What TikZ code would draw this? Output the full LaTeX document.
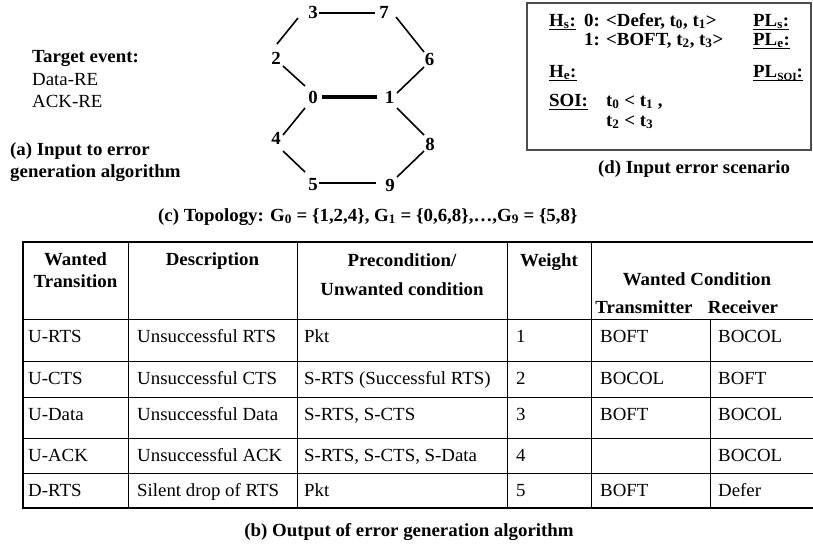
\documentclass[tikz,border=0pt]{standalone}
\usepackage{fontspec}
\setmainfont{Liberation Serif}[FakeStretch=1.02]
\usetikzlibrary{calc}
% underline drawn at a fixed depth, so subscripts sit on the rule
\newcommand\undl[1]{\setbox0\hbox{#1}\rlap{\rule[-4pt]{\wd0}{1.3pt}}\box0}
\newcommand\sbs[1]{\textsubscript{#1}}
\begin{document}
\begin{tikzpicture}[x=1pt,y=-1pt,
  txt/.style={inner sep=0pt, font=\fontsize{18.5}{22}\selectfont},
  lt/.style={txt, anchor=base west},
  ct/.style={txt, anchor=base},
  blt/.style={txt, font=\fontsize{18.5}{22}\selectfont\bfseries, anchor=base west},
  bct/.style={txt, font=\fontsize{18.5}{22}\selectfont\bfseries, anchor=base},
  vtx/.style={txt, font=\fontsize{18.5}{22}\selectfont\bfseries, anchor=center},
  link/.style={line width=1.6pt},
  strong/.style={line width=4pt},
  grid/.style={line width=1pt},
  frame/.style={line width=2.6pt},
  boxline/.style={line width=1.2pt, draw=black!70}
]
\useasboundingbox (0,0) rectangle (813,550);

% (a) input to the error generation algorithm
\node[blt] (tgt) at (32,62) {Target event:};
\node[lt] (ev1) at (32,85) {Data-RE};
\node[lt] (ev2) at (32,107) {ACK-RE};
\node[blt] (capa1) at (10,155) {(a) Input to error};
\node[blt] (capa2) at (10,177) {generation algorithm};

% (c) topology graph
\node[vtx] (n3) at (313,12.5) {3};
\node[vtx] (n7) at (384,12.5) {7};
\node[vtx] (n2) at (276,58) {2};
\node[vtx] (n6) at (429.5,59) {6};
\node[vtx] (n0) at (313,97) {0};
\node[vtx] (n1) at (389.5,97) {1};
\node[vtx] (n4) at (276,138) {4};
\node[vtx] (n8) at (430,144) {8};
\node[vtx] (n5) at (313,185) {5};
\node[vtx] (n9) at (390,185) {9};

\draw[link] ($(n3)+(6,0.5)$) -- ($(n7)+(-9,0.5)$);
\draw[link] ($(n2)+(1,-14)$) -- ($(n3)+(-15,5.5)$);
\draw[link] ($(n7)+(12,4.5)$) -- ($(n6)+(-5.5,-7)$);
\draw[link] ($(n2)+(7,8)$) -- ($(n0)+(-8,-11)$);
\draw[link] ($(n6)+(-5.5,8)$) -- ($(n1)+(7.5,-4)$);
\draw[strong] ($(n0)+(9,0)$) -- ($(n1)+(-13,0)$);
\draw[link] ($(n0)+(-8,11)$) -- ($(n4)+(7,-3)$);
\draw[link] ($(n1)+(7.5,11)$) -- ($(n8)+(-6,-9)$);
\draw[link] ($(n4)+(7,13)$) -- ($(n5)+(-8,-13)$);
\draw[link] ($(n8)+(-6,7)$) -- ($(n9)+(7,-8)$);
\draw[link] ($(n5)+(6,-2)$) -- ($(n9)+(-14,-2)$);

\node[blt] (capc) at (158,221)
  {(c) Topology: G\sbs{0} = \{1,2,4\}, G\sbs{1} = \{0,6,8\},…,G\sbs{9} = \{5,8\}};

% (d) input error scenario
\draw[boxline] (527,3) rectangle (811,150);
\node[blt] (hs) at (549,26) {\undl{H\sbs{s}:}};
\node[blt] (hs0) at (584,26) {0: <Defer, t\sbs{0}, t\sbs{1}>};
\node[blt] (hs1) at (584,45) {1: <BOFT, t\sbs{2}, t\sbs{3}>};
\node[blt] (he) at (549,77) {\undl{H\sbs{e}:}};
\node[blt] (soi) at (549,106) {\undl{SOI:}};
\node[blt] (soi1) at (606,106) {t\sbs{0} < t\sbs{1} ,};
\node[blt] (soi2) at (606,126) {t\sbs{2} < t\sbs{3}};
\node[blt] (pls) at (753,26) {\undl{PL\sbs{s}:}};
\node[blt] (ple) at (753,45) {\undl{PL\sbs{e}:}};
\node[blt] (plsoi) at (753,77) {\undl{PL{\fontsize{11}{12}\selectfont\raisebox{-3pt}{SOI}}:}};
\node[bct] (capd) at (694,173) {(d) Input error scenario};

% (b) output table: inner rules
\foreach \yy in {319,361,397,438,473}
  \draw[grid] (23,\yy) -- (813,\yy);
\foreach \xx in {128,297,507,591}
  \draw[grid] (\xx,242) -- (\xx,508);
\draw[grid] (710,319) -- (710,508);
% outer frame (right side runs past the page edge)
\draw[frame] (813,242) -- (23,242) -- (23,508) -- (813,508);

% header
\node[bct] (h1a) at (75.5,265) {Wanted};
\node[bct] (h1b) at (75.5,287) {Transition};
\node[bct] (h2) at (212.5,265) {Description};
\node[bct] (h3a) at (402,266) {Precondition/};
\node[bct] (h3b) at (402,295) {Unwanted condition};
\node[bct] (h4) at (549,266) {Weight};
\node[bct] (h5) at (697,285) {Wanted Condition};
\node[bct] (h5a) at (644,313) {Transmitter};
\node[bct] (h5b) at (743,313) {Receiver};

% body rows
\node[lt] (r1a) at (28,342) {U-RTS};
\node[lt] (r1b) at (137,342) {Unsuccessful RTS};
\node[lt] (r1c) at (304,342) {Pkt};
\node[lt] (r1d) at (516,342) {1};
\node[lt] (r1e) at (600,342) {BOFT};
\node[lt] (r1f) at (718,342) {BOCOL};

\node[lt] (r2a) at (28,384) {U-CTS};
\node[lt] (r2b) at (137,384) {Unsuccessful CTS};
\node[lt] (r2c) at (304,384) {S-RTS (Successful RTS)};
\node[lt] (r2d) at (516,384) {2};
\node[lt] (r2e) at (600,384) {BOCOL};
\node[lt] (r2f) at (718,384) {BOFT};

\node[lt] (r3a) at (28,420) {U-Data};
\node[lt] (r3b) at (137,420) {Unsuccessful Data};
\node[lt] (r3c) at (304,420) {S-RTS, S-CTS};
\node[lt] (r3d) at (516,420) {3};
\node[lt] (r3e) at (600,420) {BOFT};
\node[lt] (r3f) at (718,420) {BOCOL};

\node[lt] (r4a) at (28,461) {U-ACK};
\node[lt] (r4b) at (137,461) {Unsuccessful ACK};
\node[lt] (r4c) at (304,461) {S-RTS, S-CTS, S-Data};
\node[lt] (r4d) at (516,461) {4};
\node[lt] (r4f) at (718,461) {BOCOL};

\node[lt] (r5a) at (28,496) {D-RTS};
\node[lt] (r5b) at (137,496) {Silent drop of RTS};
\node[lt] (r5c) at (304,496) {Pkt};
\node[lt] (r5d) at (516,496) {5};
\node[lt] (r5e) at (600,496) {BOFT};
\node[lt] (r5f) at (718,496) {Defer};

\node[bct] (capb) at (409,536) {(b) Output of error generation algorithm};
\end{tikzpicture}
\end{document}
